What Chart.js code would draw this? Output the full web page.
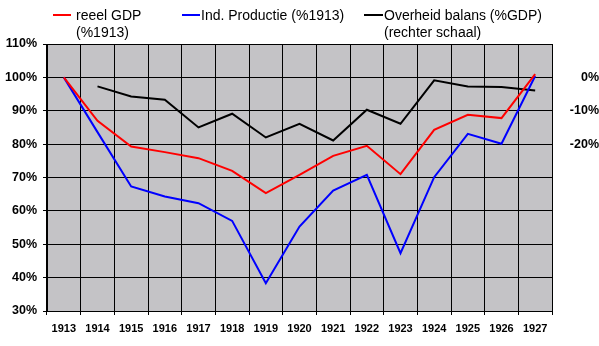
<!DOCTYPE html>
<html>
<head>
<meta charset="utf-8">
<script src="https://cdn.jsdelivr.net/npm/chart.js@4/dist/chart.umd.min.js"></script>
<style>
  html, body { margin: 0; padding: 0; background: #ffffff; }
  #wrap { width: 599px; height: 346px; position: relative; }
</style>
</head>
<body>
<div id="wrap"><canvas id="c" width="599" height="346"></canvas></div>
<script>
// Years on the category axis
const years = ['1913', '1914', '1915', '1916', '1917', '1918', '1919', '1920',
               '1921', '1922', '1923', '1924', '1925', '1926', '1927'];

// Real GDP, index 1913 = 100 (left scale)
const gdp = [100, 87, 79.3, 77.6, 75.8, 72, 65.3, 70.8, 76.5, 79.5, 71, 84.3, 88.8, 87.8, 101];

// Industrial production, index 1913 = 100 (left scale)
const indProd = [100, 83.6, 67.3, 64.3, 62.3, 57, 38.3, 55.3, 66.1, 70.8, 47.3, 70.1, 83.1, 80.1, 100.4];

// Government balance as % of GDP (right scale)
const govBalance = [null, -2.7, -5.7, -6.7, -15, -10.9, -18, -13.9, -18.9, -9.7, -13.9, -0.9, -2.7, -2.9, -3.9];

// Legend text, one entry per line
const gdpLegend = ['reeel GDP', '(%1913)'];
const prodLegend = ['Ind. Productie (%1913)'];
const balLegend = ['Overheid balans (%GDP)', '(rechter schaal)'];

// Left and right tick values
const leftTicks = [30, 40, 50, 60, 70, 80, 90, 100, 110];
const rightTicksShown = [0, -10, -20];

const FONT = 'Arial, "Liberation Sans", sans-serif';

// Grey plot area behind the grid
const plotBackground = {
  id: 'plotBackground',
  beforeDraw(chart) {
    const { ctx, chartArea: a } = chart;
    ctx.save();
    ctx.fillStyle = '#c4c3c6';
    ctx.fillRect(a.left, a.top, a.right - a.left, a.bottom - a.top);
    ctx.restore();
  }
};

// Legend row across the top, with wrapped labels
const topLegend = {
  id: 'topLegend',
  afterDraw(chart) {
    const ctx = chart.ctx;
    const items = [
      { ds: 0, x1: 53, x2: 71, tx: 76 },
      { ds: 1, x1: 182, x2: 200, tx: 201 },
      { ds: 2, x1: 364, x2: 383, tx: 384 }
    ];
    ctx.save();
    ctx.font = '14px ' + FONT;
    ctx.textAlign = 'left';
    ctx.textBaseline = 'alphabetic';
    items.forEach(it => {
      const ds = chart.data.datasets[it.ds];
      ctx.strokeStyle = ds.borderColor;
      ctx.lineWidth = 2;
      ctx.beginPath();
      ctx.moveTo(it.x1, 15);
      ctx.lineTo(it.x2, 15);
      ctx.stroke();
      ctx.fillStyle = '#000000';
      ds.legendLines.forEach((line, i) => {
        ctx.fillText(line, it.tx, 20 + i * 16.7);
      });
    });
    ctx.restore();
  }
};

new Chart(document.getElementById('c'), {
  type: 'line',
  data: {
    labels: years,
    datasets: [
      {
        label: gdpLegend.join(' '),
        legendLines: gdpLegend,
        data: gdp,
        borderColor: '#ff0000',
        borderWidth: 2,
        pointRadius: 0,
        tension: 0,
        yAxisID: 'y'
      },
      {
        label: prodLegend.join(' '),
        legendLines: prodLegend,
        data: indProd,
        borderColor: '#0000ff',
        borderWidth: 2,
        pointRadius: 0,
        tension: 0,
        yAxisID: 'y'
      },
      {
        label: balLegend.join(' '),
        legendLines: balLegend,
        data: govBalance,
        borderColor: '#000000',
        borderWidth: 2,
        pointRadius: 0,
        tension: 0,
        spanGaps: false,
        yAxisID: 'y1'
      }
    ]
  },
  options: {
    responsive: false,
    animation: false,
    events: [],
    layout: { padding: { top: 44, left: 0, right: 0, bottom: 0 } },
    plugins: {
      legend: { display: false },
      tooltip: { enabled: false },
      title: { display: false }
    },
    scales: {
      x: {
        type: 'category',
        offset: true,
        grid: { display: true, offset: true, color: '#000000', lineWidth: 1, tickLength: 4, drawTicks: true },
        border: { display: true, color: '#000000', width: 1 },
        ticks: {
          color: '#000000',
          padding: 7,
          maxRotation: 0,
          autoSkip: false,
          font: { family: FONT, size: 11, weight: 'bold' }
        },
        afterFit(scale) { scale.height = 35; }
      },
      y: {
        position: 'left',
        min: leftTicks[0],
        max: leftTicks[leftTicks.length - 1],
        afterBuildTicks(scale) { scale.ticks = leftTicks.map(v => ({ value: v })); },
        grid: { color: '#000000', lineWidth: 1, tickLength: 4, drawTicks: true },
        border: { display: true, color: '#000000', width: 1 },
        ticks: {
          color: '#000000',
          padding: 6,
          font: { family: FONT, size: 12.5, weight: 'bold' },
          callback: v => v + '%'
        },
        afterFit(scale) { scale.width = 47; }
      },
      y1: {
        position: 'right',
        min: -70,
        max: 10,
        grid: { display: false, drawTicks: false },
        border: { display: false },
        ticks: {
          stepSize: 10,
          color: '#000000',
          padding: 6,
          crossAlign: 'far',
          font: { family: FONT, size: 12.5, weight: 'bold' },
          callback: v => rightTicksShown.includes(v) ? v + '%' : ''
        },
        afterFit(scale) { scale.width = 47; }
      }
    }
  },
  plugins: [plotBackground, topLegend]
});
</script>
</body>
</html>
